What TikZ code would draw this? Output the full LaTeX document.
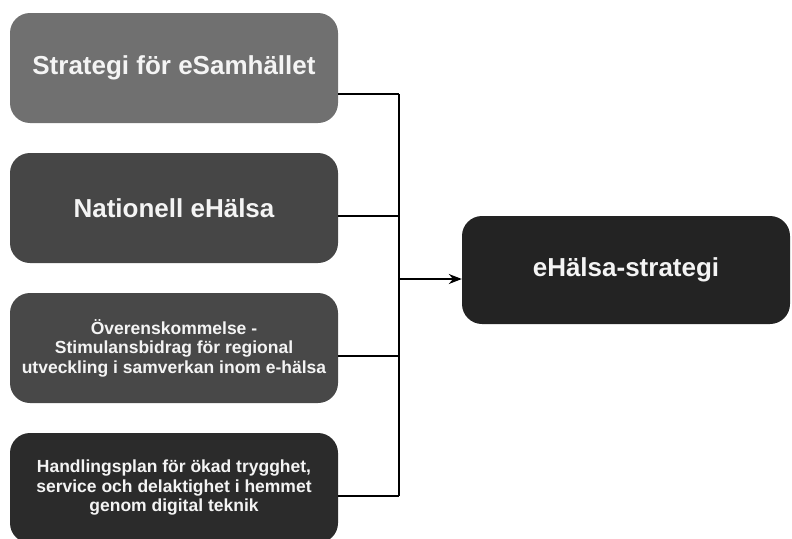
\documentclass[tikz,border=0pt]{standalone}
\usepackage{fontspec}
\setmainfont{Liberation Sans}
\usetikzlibrary{arrows.meta}
\definecolor{cone}{HTML}{707070}
\definecolor{ctwo}{HTML}{464646}
\definecolor{cthree}{HTML}{484848}
\definecolor{cfour}{HTML}{2B2B2B}
\definecolor{cright}{HTML}{232323}
\definecolor{txt}{HTML}{F4F4F4}
\tikzset{
  box/.style={rounded corners=20pt, minimum width=328pt, minimum height=110pt,
    inner sep=0pt, text=txt, font=\bfseries, align=center},
  bigtxt/.style={font=\fontsize{26}{30}\selectfont\bfseries},
  smalltxt/.style={font=\fontsize{17.5}{19.5}\selectfont\bfseries},
  conn/.style={line width=1.3pt, draw=black}
}
\begin{document}
\begin{tikzpicture}[x=1pt,y=1pt]
\useasboundingbox (0,0) rectangle (792,-538);
\clip (0,0) rectangle (792,-538);
\node[box, fill=cone, bigtxt] (b1) at (174,-68) {Strategi för eSamhället};
\node[box, fill=ctwo, bigtxt] (b2) at (174,-208) {Nationell eHälsa};
\node[box, fill=cthree, smalltxt] (b3) at (174,-348) {Överenskommelse -\\Stimulansbidrag för regional\\utveckling i samverkan inom e-hälsa};
\node[box, fill=cfour, smalltxt] (b4) at (174,-488) {Handlingsplan för ökad trygghet,\\service och delaktighet i hemmet\\genom digital teknik};
\node[box, fill=cright, bigtxt, minimum height=108pt] (r) at (626,-270) {eHälsa-strategi};
\coordinate (top) at (399,-94);
\coordinate (j2) at (399,-216);
\coordinate (j3) at (399,-356);
\coordinate (bot) at (399,-496);
\coordinate (mid) at (399,-279);
\draw[conn] ([yshift=-26pt]b1.east) -- (top);
\draw[conn] ([yshift=-8pt]b2.east) -- (j2);
\draw[conn] ([yshift=-8pt]b3.east) -- (j3);
\draw[conn] ([yshift=-8pt]b4.east) -- (bot);
\draw[conn] (top) -- (bot);
\draw[conn, -{Stealth[length=13pt,width=10pt]}] (mid) -- ([yshift=-9pt]r.west);
\end{tikzpicture}
\end{document}
